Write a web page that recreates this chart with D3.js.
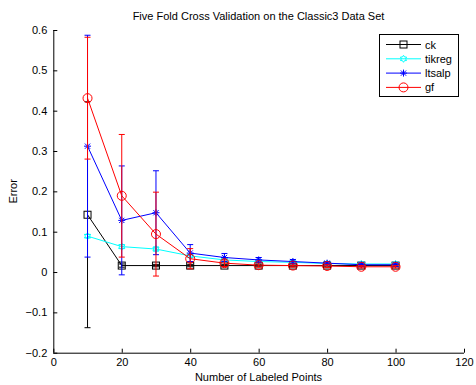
<!DOCTYPE html>
<html><head><meta charset="utf-8">
<script src="https://cdn.jsdelivr.net/npm/d3@7"></script>
<style>
body{margin:0;background:#fff;}
text{font-family:"Liberation Sans",Arial,sans-serif;}
</style></head>
<body><svg id="c" width="476" height="385"></svg>
<script>
const xValues = [10,20,30,40,50,60,70,80,90,100];
const ckMean = [0.142,0.016,0.016,0.016,0.016,0.016,0.016,0.016,0.016,0.016];
const ckErr  = [0.28,0.004,0.003,0.003,0.003,0.003,0.003,0.003,0.003,0.003];
const tikMean = [0.089,0.063,0.057,0.040,0.030,0.026,0.024,0.021,0.020,0.020];
const tikErr  = [0.004,0.005,0.005,0.004,0.004,0.004,0.004,0.004,0.004,0.004];
const ltsMean = [0.312,0.128,0.147,0.047,0.036,0.030,0.026,0.022,0.018,0.018];
const ltsErr  = [0.275,0.135,0.104,0.021,0.010,0.006,0.005,0.004,0.004,0.004];
const gfMean = [0.431,0.189,0.094,0.033,0.022,0.017,0.016,0.015,0.013,0.013];
const gfErr  = [0.151,0.152,0.104,0.025,0.008,0.005,0.004,0.004,0.003,0.003];
const seriesNames = ["ck","tikreg","ltsalp","gf"];
const seriesColors = ["#000000","#00ffff","#0000ff","#ff0000"];
const xTicks = [0,20,40,60,80,100,120];
const yTicks = [-0.2,-0.1,0,0.1,0.2,0.3,0.4,0.5,0.6];

const series = [
  {name:seriesNames[0], color:seriesColors[0], mean:ckMean, err:ckErr, marker:"square"},
  {name:seriesNames[1], color:seriesColors[1], mean:tikMean, err:tikErr, marker:"hexstar"},
  {name:seriesNames[2], color:seriesColors[2], mean:ltsMean, err:ltsErr, marker:"star"},
  {name:seriesNames[3], color:seriesColors[3], mean:gfMean, err:gfErr, marker:"circle"}
];

const svg = d3.select("#c");
const x = d3.scaleLinear().domain([0,120]).range([53.3,464]);
const y = d3.scaleLinear().domain([-0.2,0.6]).range([352.7,30]);

// axes
const xAxis = d3.axisBottom(x).tickValues(xTicks).tickSize(-4).tickPadding(6).tickFormat(d3.format("d"));
const gx = svg.append("g").attr("transform",`translate(0,${y(-0.2)})`).call(xAxis);
const yAxis = d3.axisLeft(y).tickValues(yTicks).tickSize(-4).tickPadding(6).tickFormat(d=>d3.format("")(Math.round(d*10)/10));
const gy = svg.append("g").attr("transform",`translate(${x(0)},0)`).call(yAxis);
[gx,gy].forEach(g=>{
  g.select(".domain").attr("stroke","#000").attr("stroke-width",1);
  g.selectAll(".tick line").attr("stroke","#000");
  g.selectAll(".tick text").attr("fill","#000").style("font-size","11px").style("font-family","'Liberation Sans',Arial,sans-serif");
});
gx.select(".domain").attr("d",`M${x(0)},0.5H${x(120)}`);
gy.select(".domain").attr("d",`M0.5,${y(-0.2)}V${y(0.6)}`);

function drawMarker(g, type, cx, cy, color){
  if(type==="square"){
    g.append("rect").attr("x",cx-3.5).attr("y",cy-3.5).attr("width",7).attr("height",7)
      .attr("fill","none").attr("stroke",color).attr("stroke-width",1);
  } else if(type==="circle"){
    g.append("circle").attr("cx",cx).attr("cy",cy).attr("r",4.5)
      .attr("fill","none").attr("stroke",color).attr("stroke-width",1);
  } else if(type==="star"){
    const r=3.5;
    const p = `M${cx-r},${cy}H${cx+r}M${cx},${cy-r}V${cy+r}M${cx-r*0.75},${cy-r*0.75}L${cx+r*0.75},${cy+r*0.75}M${cx-r*0.75},${cy+r*0.75}L${cx+r*0.75},${cy-r*0.75}`;
    g.append("path").attr("d",p).attr("stroke",color).attr("stroke-width",1).attr("fill","none");
  } else if(type==="hexstar"){
    const r=3.5;
    const pts=[];
    for(let i=0;i<12;i++){const a=Math.PI/6*i - Math.PI/2; const rr = i%2===0? r : r*0.6; pts.push([cx+rr*Math.cos(a), cy+rr*Math.sin(a)]);}
    g.append("path").attr("d","M"+pts.map(p=>p.join(",")).join("L")+"Z").attr("stroke",color).attr("stroke-width",1).attr("fill","none");
  }
}

const line = d3.line().x(d=>x(d[0])).y(d=>y(d[1]));
series.forEach(s=>{
  const g = svg.append("g");
  const pts = xValues.map((xv,i)=>[xv,s.mean[i],s.err[i]]);
  // error bars
  pts.forEach(p=>{
    const cx=x(p[0]), y1=y(p[1]+p[2]), y2=y(p[1]-p[2]);
    g.append("path").attr("d",`M${cx},${y1}V${y2}M${cx-3},${y1}H${cx+3}M${cx-3},${y2}H${cx+3}`)
      .attr("stroke",s.color).attr("stroke-width",1).attr("fill","none");
  });
  g.append("path").datum(pts).attr("d",line).attr("stroke",s.color).attr("stroke-width",1).attr("fill","none");
  pts.forEach(p=>drawMarker(g,s.marker,x(p[0]),y(p[1]),s.color));
});

// legend
const lg = svg.append("g");
lg.append("rect").attr("x",379.5).attr("y",34.5).attr("width",79).attr("height",62)
  .attr("fill","#fff").attr("stroke","#000").attr("stroke-width",1);
series.forEach((s,i)=>{
  const ly = 44.5 + i*14.3;
  lg.append("line").attr("x1",386).attr("x2",421).attr("y1",ly).attr("y2",ly).attr("stroke",s.color).attr("stroke-width",1);
  drawMarker(lg,s.marker,403.5,ly,s.color);
  lg.append("text").attr("x",425).attr("y",ly+4).text(s.name).style("font-size","11px").attr("fill","#000");
});

// titles
svg.append("text").attr("x",258.5).attr("y",20).attr("text-anchor","middle").style("font-size","11px")
  .text("Five Fold Cross Validation on the Classic3 Data Set");
svg.append("text").attr("x",258.5).attr("y",381).attr("text-anchor","middle").style("font-size","11px")
  .text("Number of Labeled Points");
svg.append("text").attr("transform",`translate(17,${y(0.2)}) rotate(-90)`).attr("text-anchor","middle").style("font-size","11px")
  .text("Error");
</script></body></html>
